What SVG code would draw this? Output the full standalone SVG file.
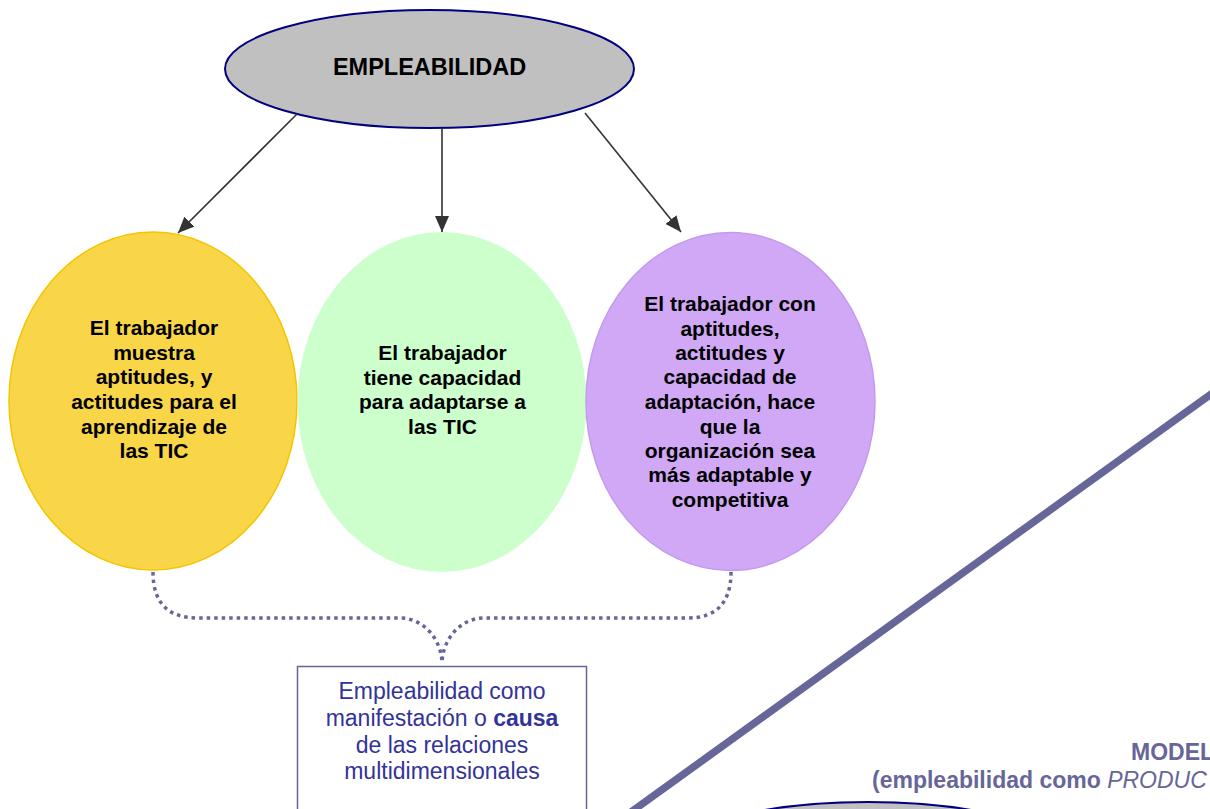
<svg xmlns="http://www.w3.org/2000/svg" width="1210" height="809" viewBox="0 0 1210 809">
<style>
.t{font-family:"Liberation Sans",Arial,sans-serif;font-weight:bold;font-size:21px;fill:#000;text-anchor:middle}
.arrow{stroke:#333333;stroke-width:1.6;fill:none}
.dots{stroke:#666699;stroke-width:3.5;fill:none;stroke-dasharray:3.5 4}
.bx{font-family:"Liberation Sans",Arial,sans-serif;font-size:23px;fill:#333399;text-anchor:middle}
.mod{font-family:"Liberation Sans",Arial,sans-serif;font-size:23px;font-weight:bold;fill:#666699}
</style>
<defs>
<marker id="ah" viewBox="0 0 16 14" refX="16" refY="7" markerWidth="16" markerHeight="14" markerUnits="userSpaceOnUse" orient="auto">
<path d="M0,0 L16,7 L0,14 Z" fill="#333333"/>
</marker>
</defs>
<rect width="1210" height="809" fill="#ffffff"/>

<g id="diagonal">
<line x1="1214" y1="392" x2="631" y2="812" stroke="#666699" stroke-width="7.5"/>
</g>

<g id="node-empleabilidad">
<ellipse cx="429.5" cy="69" rx="204.5" ry="59" fill="#C0C0C0" stroke="#000080" stroke-width="2"/>
<text class="t" x="429.5" y="75" style="font-size:23.5px">EMPLEABILIDAD</text>
</g>

<g id="node-aptitudes">
<ellipse cx="153" cy="401" rx="144" ry="169" fill="#F8D648" stroke="#F5C400" stroke-width="1.5"/>
<text class="t" x="154" y="335">El trabajador</text>
<text class="t" x="154" y="359.5">muestra</text>
<text class="t" x="154" y="384">aptitudes, y</text>
<text class="t" x="154" y="409">actitudes para el</text>
<text class="t" x="154" y="433.5">aprendizaje de</text>
<text class="t" x="154" y="458">las TIC</text>
</g>

<g id="node-capacidad">
<ellipse cx="442" cy="402" rx="144.5" ry="170" fill="#CCFFCC"/>
<text class="t" x="442.5" y="360">El trabajador</text>
<text class="t" x="442.5" y="384.5">tiene capacidad</text>
<text class="t" x="442.5" y="409">para adaptarse a</text>
<text class="t" x="442.5" y="433.5">las TIC</text>
</g>

<g id="node-organizacion">
<ellipse cx="730.5" cy="401.5" rx="144.5" ry="169" fill="#D1A8F6" stroke="#C49AF0" stroke-width="1.5"/>
<text class="t" x="730" y="311">El trabajador con</text>
<text class="t" x="730" y="335.5">aptitudes,</text>
<text class="t" x="730" y="360">actitudes y</text>
<text class="t" x="730" y="384">capacidad de</text>
<text class="t" x="730" y="409">adaptación, hace</text>
<text class="t" x="730" y="433.5">que la</text>
<text class="t" x="730" y="458">organización sea</text>
<text class="t" x="730" y="482">más adaptable y</text>
<text class="t" x="730" y="507">competitiva</text>
</g>

<g id="node-causa">
<rect x="297.5" y="666.5" width="289" height="170" fill="#ffffff" stroke="#666699" stroke-width="1.5"/>
<text class="bx" x="442" y="699">Empleabilidad como</text>
<text class="bx" x="442" y="726">manifestación o <tspan font-weight="bold">causa</tspan></text>
<text class="bx" x="442" y="752.5">de las relaciones</text>
<text class="bx" x="442" y="779">multidimensionales</text>
</g>

<g id="node-modelo">
<ellipse cx="868" cy="862" rx="205" ry="60" fill="#C0C0C0" stroke="#000080" stroke-width="2"/>
<text class="mod" x="1131" y="760">MODEL</text>
<text class="mod" x="872" y="788">(empleabilidad como <tspan font-weight="normal" font-style="italic">PRODUC</tspan></text>
</g>

<g id="connectors">
<line class="arrow" x1="297" y1="114" x2="178" y2="233" marker-end="url(#ah)"/>
<line class="arrow" x1="442" y1="129" x2="442" y2="232" marker-end="url(#ah)"/>
<line class="arrow" x1="585" y1="113" x2="681" y2="232" marker-end="url(#ah)"/>
<path class="dots" d="M153,572 C153,603 168,618 198,618 L400,618 C424,618 442,640 442,664"/>
<path class="dots" d="M731,572 C731,603 716,618 688,618 L484,618 C460,618 442,640 442,664"/>
</g>
</svg>
